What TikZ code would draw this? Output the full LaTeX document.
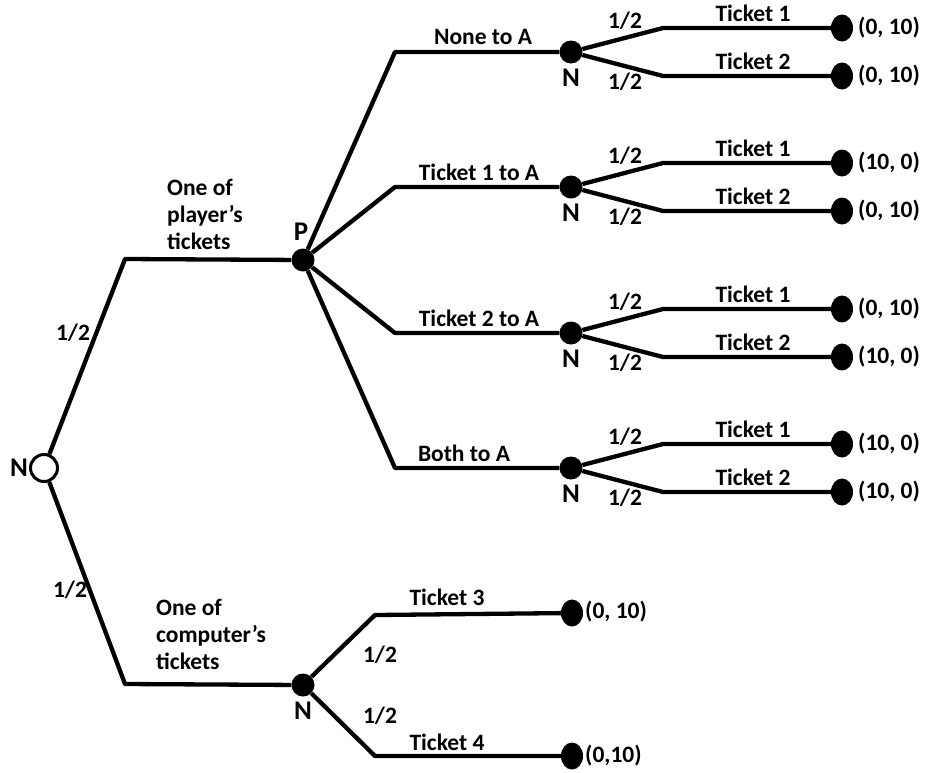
\documentclass[tikz,border=0pt]{standalone}
\usepackage{fontspec}
\setmainfont{Carlito}
\usetikzlibrary{shapes.geometric}
\tikzset{
  edge/.style={line width=4.3pt, line join=round},
  chance/.style={circle, draw=black, line width=3pt, fill=white, minimum size=27pt, inner sep=0pt},
  dot/.style={circle, fill=black, minimum size=23pt, inner sep=0pt},
  leaf/.style={ellipse, fill=black, minimum width=22pt, minimum height=27pt, inner sep=0pt},
  lbl/.style={font=\bfseries\fontsize{23.5}{27}\selectfont, inner sep=0pt},
  plbl/.style={font=\bfseries\fontsize{27}{30}\selectfont, inner sep=0pt},
}
\begin{document}
\begin{tikzpicture}[x=1pt,y=-1pt]
\useasboundingbox (0,0) rectangle (934,772);
% root
\node[chance] (root) at (44,468) {};
\node[plbl] (rootN) at (19,468) {N};
\coordinate (ku) at (125,259);
\coordinate (kd) at (125,684);
\node[dot] (P) at (303,260) {};
\node[plbl] (Plbl) at (301,232) {P};
\node[dot] (nb) at (303,685) {};
\node[plbl] (nblbl) at (303,711) {N};
\draw[edge] (root) -- (ku) -- (P);
\draw[edge] (root) -- (kd) -- (nb);
\node[lbl] (hu) at (73,333) {1/2};
\node[lbl] (hd) at (70,590) {1/2};
\node[lbl, align=left, anchor=west] (lu) at (167,214) {One of\\player’s\\tickets};
\node[lbl, align=left, anchor=west] (ld) at (156,634) {One of\\computer’s\\tickets};
% player choices
\foreach \i/\y/\txt/\lx/\pa/\pb in {1/52/None to A/483/{(0, 10)}/{(0, 10)},
                          2/187/Ticket 1 to A/479/{(10, 0)}/{(0, 10)},
                          3/333/Ticket 2 to A/479/{(0, 10)}/{(10, 0)},
                          4/468/Both to A/464/{(10, 0)}/{(10, 0)}}{
  \coordinate (k\i) at (395,\y);
  \node[dot] (n\i) at (571,\y) {};
  \draw[edge] (P) -- (k\i) -- (n\i);
  \node[lbl] (c\i) at (\lx,\y-15) {\txt};
  \node[plbl] (nl\i) at (571,\y+26) {N};
  \coordinate (a\i) at (663,\y-24);
  \coordinate (b\i) at (663,\y+24);
  \node[leaf] (ta\i) at (842,\y-24) {};
  \node[leaf] (tb\i) at (842,\y+24) {};
  \draw[edge] (n\i) -- (a\i) -- (ta\i);
  \draw[edge] (n\i) -- (b\i) -- (tb\i);
  \node[lbl] (pa\i) at (625,\y-31) {1/2};
  \node[lbl] (pb\i) at (625,\y+30) {1/2};
  \node[lbl] (xa\i) at (753,\y-39) {Ticket 1};
  \node[lbl] (xb\i) at (753,\y+9) {Ticket 2};
  \node[lbl, anchor=west] (va\i) at (858,\y-24) {\pa};
  \node[lbl, anchor=west] (vb\i) at (858,\y+24) {\pb};
}
% computer's tickets
\coordinate (k5) at (375,615);
\coordinate (k6) at (375,756);
\node[leaf] (t5) at (572,613) {};
\node[leaf] (t6) at (572,756) {};
\draw[edge] (nb) -- (k5) -- (t5);
\draw[edge] (nb) -- (k6) -- (t6);
\node[lbl] (q5) at (380,655) {1/2};
\node[lbl] (q6) at (380,716) {1/2};
\node[lbl] (x5) at (447,597) {Ticket 3};
\node[lbl] (x6) at (447,742) {Ticket 4};
\node[lbl, anchor=west] (v5) at (585,612) {(0, 10)};
\node[lbl, anchor=west] (v6) at (585,756) {(0,10)};
\end{tikzpicture}
\end{document}
